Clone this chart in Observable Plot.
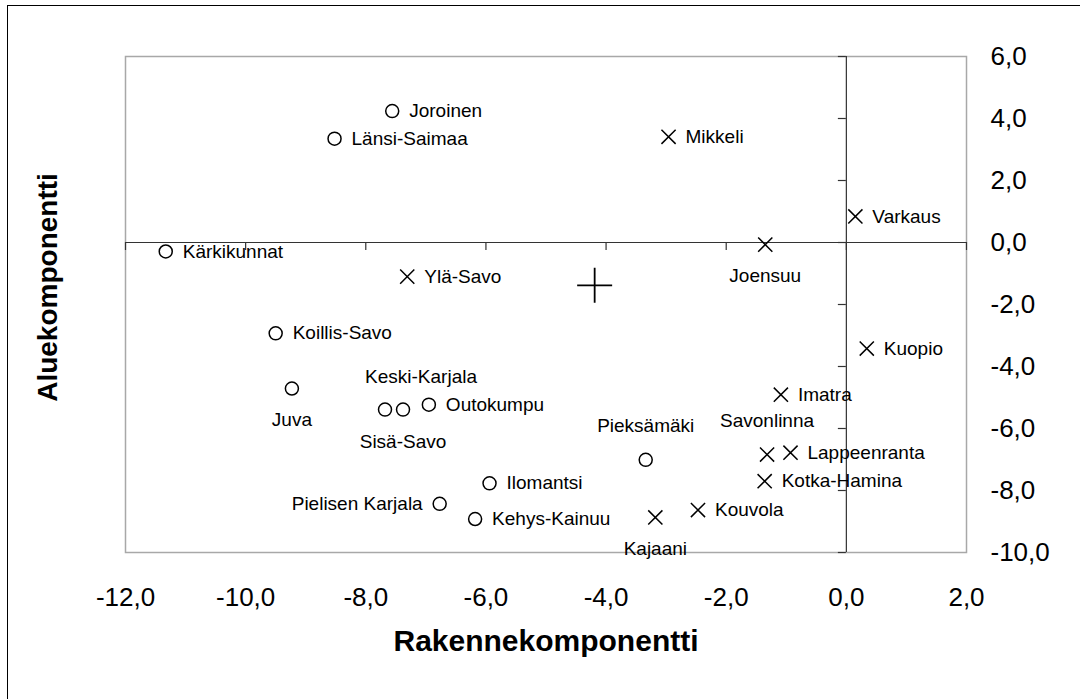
<!DOCTYPE html>
<html>
<head>
<meta charset="utf-8">
<script src="https://cdn.jsdelivr.net/npm/d3@7"></script>
<script src="https://cdn.jsdelivr.net/npm/@observablehq/plot@0.6"></script>
<style>
  html, body { margin: 0; padding: 0; background: #fff; overflow: hidden; }
  #wrap { position: relative; width: 1080px; height: 699px; }
  #border { position: absolute; left: 7px; top: 5px; width: 1200px; height: 900px; border: 1px solid #000; box-sizing: border-box; }
  #chart { position: absolute; left: 0; top: 0; }
</style>
</head>
<body>
<div id="wrap"><div id="border"></div><div id="chart"></div></div>
<script>
// Region names, component scores
const names = [
  "Joroinen", "Länsi-Saimaa", "Kärkikunnat", "Koillis-Savo", "Juva",
  "Keski-Karjala", "Sisä-Savo", "Outokumpu", "Pieksämäki", "Ilomantsi",
  "Pielisen Karjala", "Kehys-Kainuu",
  "Mikkeli", "Varkaus", "Joensuu", "Ylä-Savo", "Kuopio", "Imatra",
  "Savonlinna", "Lappeenranta", "Kotka-Hamina", "Kouvola", "Kajaani"
];
const rakenne = [
  -7.56, -8.52, -11.33, -9.50, -9.23,
  -7.38, -7.68, -6.95, -3.34, -5.94,
  -6.77, -6.18,
  -2.96, 0.15, -1.35, -7.31, 0.34, -1.09,
  -1.32, -0.93, -1.36, -2.47, -3.18
];
const alue = [
  4.24, 3.35, -0.29, -2.93, -4.71,
  -5.39, -5.39, -5.23, -7.01, -7.77,
  -8.43, -8.92,
  3.41, 0.84, -0.07, -1.10, -3.42, -4.91,
  -6.84, -6.78, -7.70, -8.63, -8.87
];
// group: "o" = circle marker, "x" = cross marker
const group = [
  "o","o","o","o","o","o","o","o","o","o","o","o",
  "x","x","x","x","x","x","x","x","x","x","x"
];
// where the label sits relative to its marker
const placement = [
  "right","right","right","right","below",
  "aboveRight","belowRight","right","above","right",
  "left","right",
  "right","right","below","right","right","right",
  "above","right","right","right","below"
];
// mean point (large plus)
const meanX = [-4.19];
const meanY = [-1.38];

const xTicks = [-12, -10, -8, -6, -4, -2, 0, 2];
const yTicks = [6, 4, 2, 0, -2, -4, -6, -8, -10];
const xTitle = "Rakennekomponentti";
const yTitle = "Aluekomponentti";

const rows = names.map((n, i) => ({name: n, x: rakenne[i], y: alue[i], g: group[i], p: placement[i]}));
const means = meanX.map((x, i) => ({x, y: meanY[i]}));
const fmt = v => v.toFixed(1).replace(".", ",");
const font = "'Liberation Sans', Arial, sans-serif";

const labelStyle = {
  right: {dx: 17, textAnchor: "start"},
  left: {dx: -17, textAnchor: "end"},
  below: {dy: 31},
  above: {dy: -34},
  aboveRight: {dx: 18, dy: -33},
  belowRight: {dx: 18, dy: 32}
};
const labelMarks = Object.entries(labelStyle).map(([k, s]) =>
  Plot.text(rows.filter(d => d.p === k), {x: "x", y: "y", text: "name", fontSize: 19, fill: "#000", ...s})
);

const chart = Plot.plot({
  width: 1080,
  height: 699,
  marginLeft: 125,
  marginRight: 114,
  marginTop: 56,
  marginBottom: 147,
  x: {domain: [-12, 2]},
  y: {domain: [-10, 6]},
  style: {fontFamily: font, background: "transparent", color: "#000"},
  marks: [
    Plot.frame({stroke: "#a8a8a8", strokeWidth: 1.5}),
    Plot.ruleY([0], {stroke: "#333", strokeWidth: 1.2}),
    Plot.ruleX([0], {stroke: "#333", strokeWidth: 1.2}),
    Plot.ruleX(xTicks, {x: d => d, y1: 0, y2: 0, insetBottom: -8, stroke: "#333", strokeWidth: 1.2}),
    Plot.ruleY(yTicks, {y: d => d, x1: 0, x2: 0, insetLeft: -8, stroke: "#333", strokeWidth: 1.2}),
    Plot.axisX(xTicks, {anchor: "bottom", tickSize: 0, tickPadding: 35, tickFormat: fmt, fontSize: 26, label: null}),
    Plot.axisY(yTicks, {anchor: "right", tickSize: 0, tickPadding: 24, tickFormat: fmt, fontSize: 26, label: null}),
    Plot.text([xTitle], {frameAnchor: "bottom", dy: 98, fontSize: 30, fontWeight: "bold", fill: "#000"}),
    Plot.text([yTitle], {frameAnchor: "left", textAnchor: "middle", dx: -77, dy: -17, rotate: -90, fontSize: 28, fontWeight: "bold", fill: "#000"}),
    Plot.dot(rows.filter(d => d.g === "o"), {x: "x", y: "y", r: 6.5, symbol: "circle", stroke: "#000", strokeWidth: 1.5, fill: "none"}),
    Plot.dot(rows.filter(d => d.g === "x"), {x: "x", y: "y", r: 6.5, symbol: "times", stroke: "#000", strokeWidth: 1.5}),
    Plot.dot(means, {x: "x", y: "y", r: 11.3, symbol: "plus", stroke: "#000", strokeWidth: 1.8}),
    ...labelMarks
  ]
});
document.getElementById("chart").appendChild(chart);
</script>
</body>
</html>
